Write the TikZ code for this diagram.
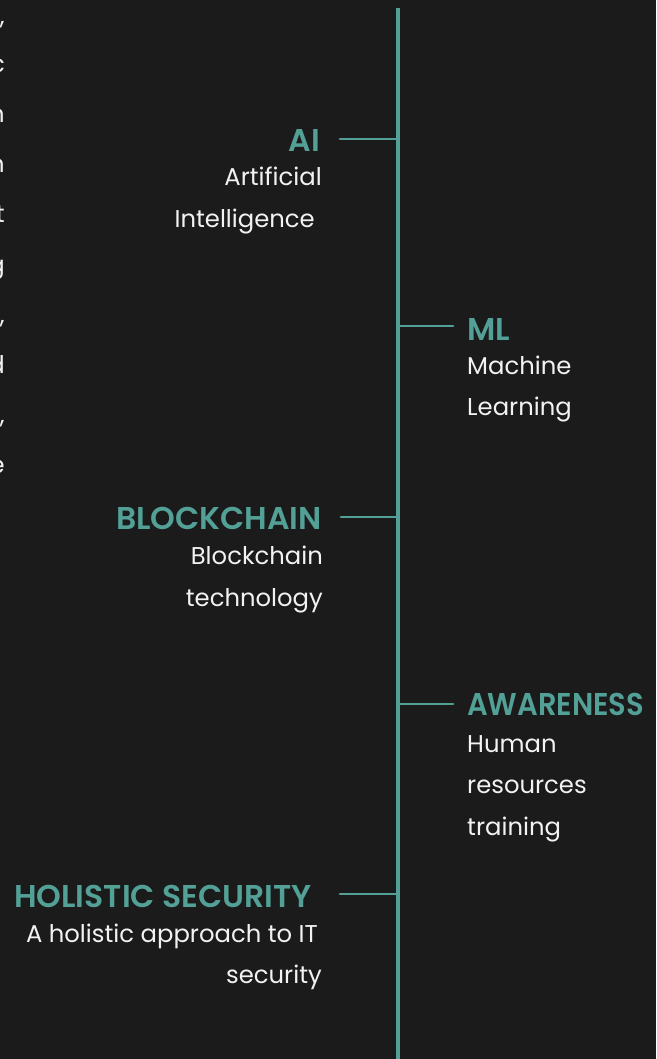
\documentclass[tikz,border=0pt]{standalone}
\usepackage{fontspec}
\usepackage{graphicx}
\setmainfont{Poppins}
\newfontfamily\headfamily{Poppins SemiBold}
\definecolor{bg}{HTML}{1B1B1B}
\definecolor{accent}{HTML}{52A096}
\definecolor{fg}{HTML}{F2F2F2}
\begin{document}
\begin{tikzpicture}[x=1pt,y=-1pt,
  head/.style={inner sep=0pt,text=accent,font=\headfamily\fontsize{31.5}{36}\selectfont},
  body/.style={inner sep=0pt,text=fg,font=\fontsize{24.3}{29}\selectfont},
  spine/.style={draw=accent,line width=3.8pt},
  branch/.style={draw=accent,line width=2.9pt,line cap=round}]
\fill[bg] (0,0) rectangle (656,1059);
\useasboundingbox (0,0) rectangle (656,1059);
\clip (0,0) rectangle (656,1059);

% line ends of the neighbouring paragraph, cut by the left edge
\foreach \ch/\yy [count=\i] in {{,}/25,c/73,n/123,n/173,t/223,g/273,{,}/323,d/373,{,}/423,e/473}
  \node[body,anchor=base east] (frag\i) at (5,\yy) {\ch};

% timeline spine
\coordinate (top) at (398,8);
\coordinate (bottom) at (398,1059);
\draw[spine] (top) -- (bottom);

% AI
\coordinate (aiJ) at (398,139);
\coordinate (aiE) at (340,139);
\node[head,anchor=base east] (ai) at (320,152) {AI};
\node[body,anchor=base east] (ai1) at (322,186) {Artificial};
\node[body,anchor=base east] (ai2) at (315,228) {Intelligence};
\draw[branch] (aiE) -- (aiJ);

% ML
\coordinate (mlJ) at (398,326);
\coordinate (mlE) at (453,326);
\node[head,anchor=base west] (ml) at (467,340) {ML};
\node[body,anchor=base west] (ml1) at (467,374) {Machine};
\node[body,anchor=base west] (ml2) at (467,415) {Learning};
\draw[branch] (mlJ) -- (mlE);

% Blockchain
\coordinate (bcJ) at (398,517);
\coordinate (bcE) at (341,517);
\node[head,anchor=base east] (bc) at (322,529) {BLOCKCHAIN};
\node[body,anchor=base east] (bc1) at (323,564) {Blockchain};
\node[body,anchor=base east] (bc2) at (323,606) {technology};
\draw[branch] (bcE) -- (bcJ);

% Awareness (set a little narrower so it stays inside the frame)
\coordinate (awJ) at (398,704);
\coordinate (awE) at (453,704);
\node[head,anchor=base west] (aw) at (467,715) {\resizebox{177pt}{\height}{AWARENESS}};
\node[body,anchor=base west] (aw1) at (467,752) {Human};
\node[body,anchor=base west] (aw2) at (467,793) {resources};
\node[body,anchor=base west] (aw3) at (467,835) {training};
\draw[branch] (awJ) -- (awE);

% Holistic security
\coordinate (hsJ) at (398,894);
\coordinate (hsE) at (340,894);
\node[head,anchor=base east] (hs) at (312,907) {HOLISTIC SECURITY};
\node[body,anchor=base east] (hs1) at (318,942) {A holistic approach to IT};
\node[body,anchor=base east] (hs2) at (322,983) {security};
\draw[branch] (hsE) -- (hsJ);
\end{tikzpicture}
\end{document}
